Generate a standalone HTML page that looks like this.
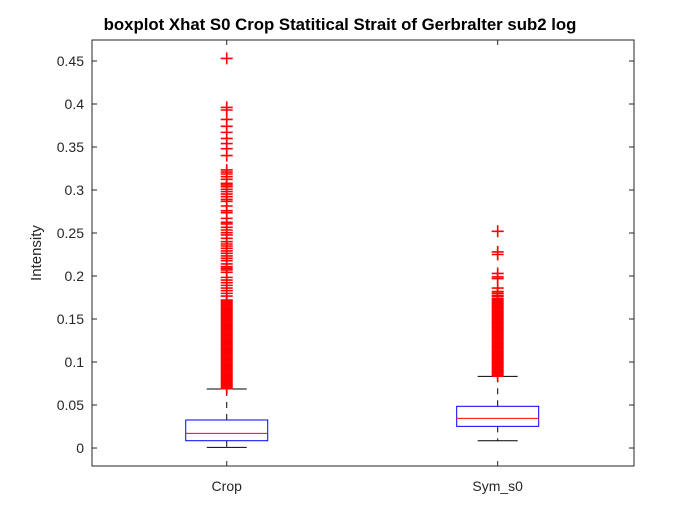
<!DOCTYPE html>
<html><head><meta charset="utf-8"><style>
body{margin:0;background:#fff;}
svg{display:block;font-family:"Liberation Sans",Arial,sans-serif;}
</style></head><body>
<svg id="chart" width="700" height="525">
<rect x="0" y="0" width="700" height="525" fill="#fff"/>
<g id="plot"></g>
</svg>
<script>
const categories=["Crop","Sym_s0"];
const q1=[0.0085,0.0252];
const medians=[0.017,0.0345];
const q3=[0.0326,0.0485];
const upperWhisker=[0.0686,0.0833];
const lowerWhisker=[0.0008,0.0085];
const yTicks=[0,0.05,0.1,0.15,0.2,0.25,0.3,0.35,0.4,0.45];
const yTickLabels=["0","0.05","0.1","0.15","0.2","0.25","0.3","0.35","0.4","0.45"];
const outliersCrop=[0.453,0.396,0.393,0.382,0.374,0.367,0.360,0.354,0.348,0.340,
0.3233,0.3209,0.3186,0.3155,0.3124,0.3078,0.3059,0.3039,0.3008,0.2981,0.2953,0.2922,0.2891,0.2868,0.2814,0.2760,0.2736,0.2670,0.2624,0.2605,0.2566,0.2535,0.2504,0.2477,0.2438,0.2399,0.2372,0.2349,0.2322,0.2291,0.2264,0.2233,0.2206,0.2178,0.2140,0.2109,0.2089,0.2070,0.2043,0.1984,0.1953,0.1922,0.1891,0.1860,0.1829,0.1798,0.1767,0.1721,
0.171,0.1695,0.168,0.1665,0.165,0.1635,0.162,0.1605,0.159,0.1575,0.156,0.1545,0.153,0.1515,0.150,0.1485,0.147,0.1455,0.144,0.1425,0.141,0.1395,0.138,0.1365,0.135,0.1335,0.132,0.1305,0.129,0.1275,0.126,0.1245,0.123,0.1215,0.120,0.1185,0.117,0.1155,0.114,0.1125,0.111,0.1095,0.108,0.1065,0.105,0.1035,0.102,0.1005,0.099,0.0975,0.096,0.0945,0.093,0.0915,0.090,0.0885,0.087,0.0855,0.084,0.0825,0.081,0.0795,0.078,0.0765,0.075,0.0735,0.072,0.0705,0.069];
const outliersSym=[0.252,0.228,0.225,0.203,0.199,0.197,0.186,0.182,0.180,0.1775,0.176,
0.1735,0.172,0.1705,0.169,0.1675,0.166,0.1645,0.163,0.1615,0.160,0.1585,0.157,0.1555,0.154,0.1525,0.151,0.1495,0.148,0.1465,0.145,0.1435,0.142,0.1405,0.139,0.1375,0.136,0.1345,0.133,0.1315,0.130,0.1285,0.127,0.1255,0.124,0.1225,0.121,0.1195,0.118,0.1165,0.115,0.1135,0.112,0.1105,0.109,0.1075,0.106,0.1045,0.103,0.1015,0.100,0.0985,0.097,0.0955,0.094,0.0925,0.091,0.0895,0.088,0.0865,0.085,0.0835];
const outliers=[outliersCrop,outliersSym];

const L=92,R=634,T=40,B=466;
const yMin=-0.0209,yMax=0.4744;
const y=v=>B-(v-yMin)/(yMax-yMin)*(B-T);
const x=i=>L+(i+0.5)/categories.length*(R-L)*0.998+ (i===0?-0.5:0);
const NS="http://www.w3.org/2000/svg";
const g=document.getElementById('plot');
function el(tag,attrs,parent){const e=document.createElementNS(NS,tag);for(const k in attrs)e.setAttribute(k,attrs[k]);(parent||g).appendChild(e);return e;}

let ax=el('rect',{x:L,y:T,width:R-L,height:B-T,fill:'#fff',stroke:'#262626','stroke-width':1});



yTicks.forEach((v,i)=>{
  const yy=y(v);
  let t1=el('line',{x1:L,x2:L+5,y1:yy,y2:yy,stroke:'#262626'});
  
  
  let t2=el('line',{x1:R,x2:R-5,y1:yy,y2:yy,stroke:'#262626'});
  
  
  let lb=el('text',{x:L-8,y:yy+5,'text-anchor':'end','font-size':14,fill:'#262626'});
  lb.textContent=yTickLabels[i];
  
  
});

categories.forEach((c,i)=>{
  const cx=x(i);
  let tb=el('line',{x1:cx,x2:cx,y1:B,y2:B-5,stroke:'#262626'});
  
  
  let tt=el('line',{x1:cx,x2:cx,y1:T,y2:T+5,stroke:'#262626'});
  
  
  let lb=el('text',{x:cx,y:B+25,'text-anchor':'middle','font-size':14,fill:'#262626'});
  lb.textContent=c;
  
  

  const hw=41,cw=20;
  let wu=el('line',{x1:cx,x2:cx,y1:y(q3[i]),y2:y(upperWhisker[i]),stroke:'#000','stroke-dasharray':'6,6'});
  
  
  let wl=el('line',{x1:cx,x2:cx,y1:y(q1[i]),y2:y(lowerWhisker[i]),stroke:'#000','stroke-dasharray':'6,6'});
  
  
  let cu=el('line',{x1:cx-cw,x2:cx+cw,y1:y(upperWhisker[i]),y2:y(upperWhisker[i]),stroke:'#000'});
  
  
  let cl=el('line',{x1:cx-cw,x2:cx+cw,y1:y(lowerWhisker[i]),y2:y(lowerWhisker[i]),stroke:'#000'});
  
  
  let bx=el('rect',{x:cx-hw,y:y(q3[i]),width:2*hw,height:y(q1[i])-y(q3[i]),fill:'none',stroke:'#0000ff'});
  
  
  let md=el('line',{x1:cx-hw,x2:cx+hw,y1:y(medians[i]),y2:y(medians[i]),stroke:'#ff0000'});
  
  

  outliers[i].forEach(v=>{
    const yy=y(v),s=6;
    let o=el('path',{d:`M${cx-s},${yy}H${cx+s}M${cx},${yy-s}V${yy+s}`,stroke:'#ff0000','stroke-width':1.6,fill:'none'});
    
    
  });
});

let yl=el('text',{x:0,y:0,transform:`translate(41,${(T+B)/2}) rotate(-90)`,'text-anchor':'middle','font-size':15,fill:'#262626'});
yl.textContent='Intensity';


let ti=el('text',{x:340,y:30,'text-anchor':'middle','font-size':16.8,'font-weight':'bold',fill:'#000'});
ti.textContent='boxplot Xhat S0 Crop Statitical Strait of Gerbralter sub2 log';


</script>
</body></html>
